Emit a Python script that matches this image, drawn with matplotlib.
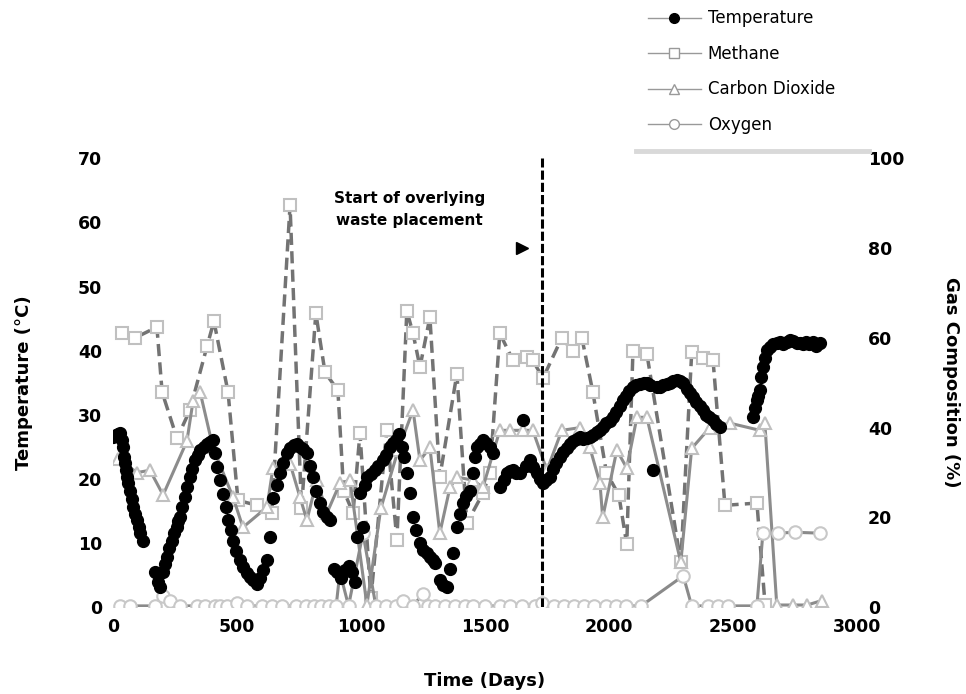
import matplotlib
matplotlib.use("Agg")
import matplotlib.pyplot as plt
from matplotlib.lines import Line2D

# ---------------- data ----------------
temp_days = [0, 10, 20, 28, 35, 40, 45, 48, 52, 56, 62, 69, 75, 81, 89, 97, 103, 109, 121,
             170, 176, 183, 190, 200, 208, 216, 226, 237, 247, 257, 264, 270, 280, 290, 300, 310, 320,
             331, 341, 351, 365, 378, 390, 404, 411, 418, 430, 445, 455, 465, 475, 485, 498, 512, 525,
             539, 552, 566, 579, 592, 606, 620, 633,
             646, 660, 673, 686, 700, 715, 730, 741, 755, 768, 781, 795, 806, 820, 834, 848, 862, 875,
             890, 905, 920, 935, 950, 965, 975,
             985, 996, 1008, 1015, 1024, 1040, 1055, 1070, 1089, 1100, 1116, 1130, 1143, 1155, 1165,
             1175, 1185, 1197, 1209, 1222, 1237, 1250, 1265, 1278, 1290, 1300, 1318, 1330, 1346, 1358,
             1371, 1387, 1399, 1411, 1425, 1439, 1450, 1460, 1468, 1480, 1492, 1505, 1520, 1532,
             1560, 1575, 1588, 1600, 1613, 1627, 1641, 1653, 1667, 1681, 1695, 1709, 1722, 1734, 1748,
             1762, 1775, 1788, 1802, 1815, 1829, 1843, 1857, 1870, 1883, 1897, 1910, 1923, 1937, 1950,
             1964, 1977, 1990, 2003, 2016, 2030, 2043, 2056, 2070, 2083, 2097, 2110, 2125, 2140, 2153,
             2166, 2177, 2193, 2206, 2220, 2233, 2246, 2260, 2273, 2286, 2300, 2313, 2326, 2339, 2352,
             2366, 2379, 2392, 2405, 2419, 2433, 2447,
             2580, 2588, 2596, 2602, 2608, 2612, 2620, 2628, 2637, 2650, 2663, 2677, 2690, 2703, 2717,
             2730, 2743, 2757, 2770, 2783, 2796, 2809, 2822, 2836, 2851]
temp_vals = [26.5, 26.8, 27.0, 27.1, 26.0, 25.0, 23.5, 22.5, 21.4, 20.3, 19.3, 18.2, 16.8, 15.6, 14.6, 13.6, 12.5, 11.5, 10.4,
             5.5, 5.3, 4.0, 3.2, 5.5, 6.8, 7.8, 9.2, 10.4, 11.5, 12.5, 13.4, 14.1, 15.6, 17.2, 18.8, 20.3, 21.6,
             22.9, 23.8, 24.5, 25.0, 25.5, 25.8, 26.0, 24.0, 21.9, 19.8, 17.7, 15.6, 13.6, 12.0, 10.4, 8.8, 7.3, 6.3,
             5.3, 4.7, 4.2, 3.7, 4.5, 5.8, 7.3, 11.0,
             17.0, 19.0, 20.9, 22.5, 24.0, 24.8, 25.3, 25.5, 25.0, 24.6, 24.0, 22.0, 20.3, 18.2, 16.2, 14.8, 14.0, 13.6,
             6.0, 5.5, 4.5, 5.8, 6.5, 5.5, 4.0,
             11.0, 17.8, 12.5, 19.0, 20.3, 20.8, 21.4, 22.0, 22.9, 23.8, 25.0, 25.6, 26.0, 27.0, 25.0,
             23.4, 20.9, 17.8, 14.0, 12.0, 10.0, 9.0, 8.4, 7.8, 7.3, 6.9, 4.2, 3.5, 3.2, 6.0,
             8.4, 12.5, 14.6, 16.2, 17.3, 18.2, 21.0, 23.5, 25.0, 25.5, 26.0, 25.6, 25.0, 24.0,
             18.7, 19.8, 20.9, 21.2, 21.4, 21.0, 20.9, 29.2, 22.0, 22.9, 21.8, 20.9, 20.0, 19.3, 19.8,
             20.3, 21.5, 22.5, 23.4, 24.2, 24.8, 25.5, 25.9, 26.2, 26.5, 26.3, 26.4, 26.5, 26.9, 27.3,
             27.6, 28.1, 28.7, 29.1, 29.6, 30.5, 31.4, 32.3, 33.0, 33.7, 34.3, 34.6, 34.8, 34.9, 34.9,
             34.6, 21.4, 34.3, 34.3, 34.6, 34.8, 34.9, 35.2, 35.4, 35.2, 34.9, 34.0, 33.4, 32.7, 32.0,
             31.4, 30.7, 30.0, 29.6, 29.2, 28.6, 28.1,
             29.6, 31.0, 32.3, 33.0, 33.8, 35.9, 37.5, 38.8, 40.1, 40.6, 41.0, 41.2, 41.3, 41.0, 41.4,
             41.6, 41.5, 41.2, 41.2, 41.0, 41.3, 41.0, 41.3, 40.8, 41.2]

ch4_days = [36, 89, 177, 198, 258, 310, 379, 407, 464, 504, 581, 640, 714, 760, 818, 855, 907, 930,
            968, 996, 1040, 1104, 1145, 1185, 1210, 1238, 1278, 1318, 1387, 1427, 1492, 1520, 1560,
            1613, 1669, 1693, 1734, 1810, 1855, 1891, 1935, 1990, 2040, 2072, 2097, 2153, 2290, 2334,
            2380, 2420, 2468, 2597, 2630]
ch4_vals = [61, 60, 62.4, 47.9, 37.6, 43.9, 58.1, 63.7, 47.9, 23.8, 22.7, 21, 89.5, 22, 65.5, 52.3, 48.3, 26,
            21, 38.8, 2, 39.4, 15, 66, 61, 53.5, 64.6, 29, 52, 18.7, 25.4, 30, 61,
            55, 55.7, 55, 51, 60, 57, 60, 48, 30, 25, 14, 57, 56.5, 10, 56.8,
            55.5, 55, 22.7, 23.2, 0.5]

co2_days = [20, 97, 149, 202, 298, 323, 351, 403, 484, 524, 621, 645, 714, 754, 782, 822, 863, 915,
            956, 1024, 1080, 1150, 1210, 1238, 1278, 1318, 1359, 1387, 1451, 1492, 1560, 1600, 1653,
            1693, 1750, 1810, 1883, 1923, 1964, 1975, 2032, 2072, 2113, 2153, 2290, 2334, 2407, 2488,
            2609, 2629, 2677, 2742, 2800, 2859]
co2_vals = [33, 30, 30.5, 25, 37, 46, 48, 35.6, 24.5, 17.8, 22.3, 31, 32, 24.5, 19.4, 28.3, 21, 27.6,
            28.3, 0.5, 22, 35, 43.9, 32.7, 35.6, 16.5, 26.7, 29, 28.3, 26.7, 39.4, 39.4, 39.4,
            39.4, 30.5, 39.4, 40, 35.6, 27.6, 20, 35, 31, 42.3, 42.3, 10, 35.4, 40, 41,
            39.4, 41, 0.5, 0.5, 0.5, 1.5]

o2_days = [30, 70, 170, 200, 230, 270, 340, 370, 410, 430, 460, 500, 540, 600, 640, 680, 740, 780, 810,
           840, 870, 900, 915, 950, 1008, 1060, 1100, 1140, 1170, 1210, 1250, 1270, 1300, 1340, 1380,
           1420, 1450, 1500, 1560, 1600, 1650, 1700, 1730, 1780, 1820, 1860, 1900, 1940, 1990, 2030,
           2070, 2130, 2300, 2334, 2400, 2440, 2480, 2597, 2621, 2681, 2750, 2851]
o2_vals = [0.3, 0.3, 0.3, 2.5, 1.5, 0.3, 0.3, 0.3, 0.3, 0.3, 0.3, 1.0, 0.3, 0.3, 0.3, 0.3, 0.3, 0.3, 0.3,
           0.3, 0.3, 0.3, 7.8, 0.3, 16.5, 0.3, 0.3, 0.3, 1.5, 0.3, 3.0, 0.3, 0.3, 0.3, 0.3,
           0.3, 0.3, 0.3, 0.3, 0.3, 0.3, 0.3, 1.0, 0.3, 0.3, 0.3, 0.3, 0.3, 0.3, 0.3,
           0.3, 0.3, 7, 0.3, 0.3, 0.3, 0.3, 0.3, 16.5, 16.5, 16.7, 16.5]

x_ticks = [0, 500, 1000, 1500, 2000, 2500, 3000]
temp_ticks = [0, 10, 20, 30, 40, 50, 60, 70]
gas_ticks = [0, 20, 40, 60, 80, 100]
overlay_day = 1730

# ---------------- figure ----------------
fig = plt.figure(figsize=(9.66, 6.94), dpi=100)
ax = fig.add_axes([0.117, 0.125, 0.770, 0.647])
ax2 = ax.twinx()

bold = dict(family="DejaVu Sans", weight="bold", size=12.5)

ax2.plot(ch4_days, ch4_vals, color="#737373", lw=2.5, ls=(0, (3.5, 1.8)),
         marker="s", ms=9, mfc="white", mec="#c0c0c0", mew=1.5, zorder=2)
ax2.plot(co2_days, co2_vals, color="#8c8c8c", lw=2.2,
         marker="^", ms=9, mfc="white", mec="#c0c0c0", mew=1.5, zorder=2)
ax2.plot(o2_days, o2_vals, color="#8a8a8a", lw=2.2,
         marker="o", ms=9, mfc="white", mec="#c8c8c8", mew=1.5, zorder=2)

ax.set_zorder(ax2.get_zorder() + 1)
ax.patch.set_visible(False)
ax.plot(temp_days, temp_vals, ls="none", marker="o", ms=8.5, color="black", zorder=3)
ax.axvline(overlay_day, color="black", lw=2.2, ls=(0, (3, 1)), zorder=4)

ax.set_xlim(0, 3000)
ax.set_ylim(0, 70)
ax2.set_ylim(0, 100)
ax.set_xticks(x_ticks)
ax.set_yticks(temp_ticks)
ax2.set_yticks(gas_ticks)
for a in (ax, ax2):
    for s in a.spines.values():
        s.set_visible(False)
    a.tick_params(length=0)
ax.set_xticklabels([str(v) for v in x_ticks], **bold)
ax.set_yticklabels([str(v) for v in temp_ticks], **bold)
ax2.set_yticklabels([str(v) for v in gas_ticks], **bold)
ax.tick_params(axis="x", pad=8)
ax.tick_params(axis="y", pad=8)
ax2.tick_params(axis="y", pad=8)

ax.set_xlabel("Time (Days)", fontsize=13, fontweight="bold", labelpad=26)
ax.set_ylabel("Temperature (°C)", fontsize=13, fontweight="bold", labelpad=32)
ax2.set_ylabel("Gas Composition (%)", fontsize=13, fontweight="bold", rotation=270, labelpad=40)

ax.text(1197, 62, "Start of overlying\nwaste placement", ha="center", va="center",
        fontsize=11, fontweight="bold", linespacing=1.6)
ax.plot([1650], [56], marker=">", ms=8, color="black", ls="none")

handles = [
    Line2D([], [], color="#999999", lw=1, marker="o", ms=7, mfc="black", mec="black"),
    Line2D([], [], color="#999999", lw=1, marker="s", ms=7, mfc="white", mec="#999999"),
    Line2D([], [], color="#999999", lw=1, marker="^", ms=7, mfc="white", mec="#999999"),
    Line2D([], [], color="#999999", lw=1, marker="o", ms=7, mfc="white", mec="#999999"),
]
labels = ["Temperature", "Methane", "Carbon Dioxide", "Oxygen"]
fig.legend(handles, labels, loc="upper left", bbox_to_anchor=(0.655, 1.008), frameon=False,
           fontsize=12, handlelength=3.2, labelspacing=1.05, handletextpad=0.4)
fig.add_artist(Line2D([0.658, 0.900], [0.783, 0.783], color="#d9d9d9", lw=3.5))

fig.savefig("out.png", dpi=100)
